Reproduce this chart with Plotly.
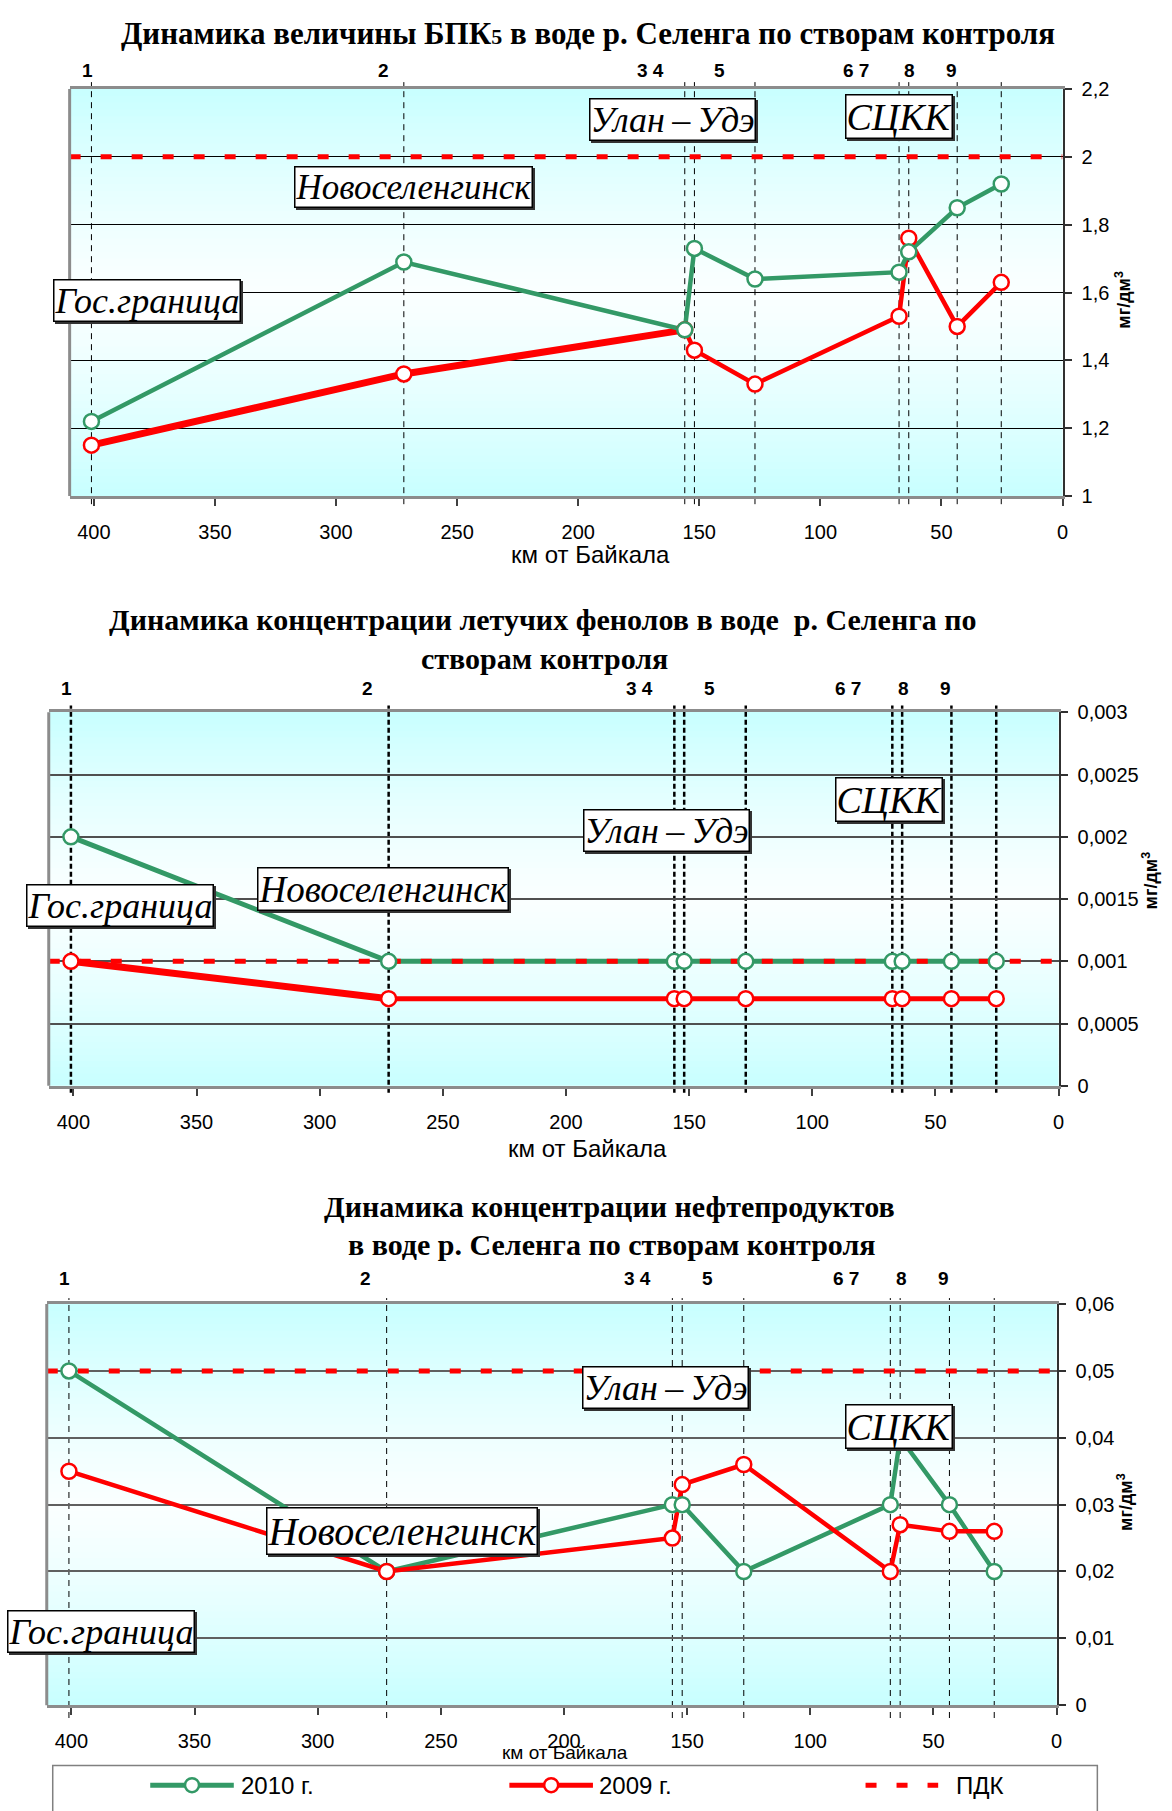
import plotly.graph_objects as go

W, H = 1172, 1811

# ---------------- data ----------------
station_km = [401, 272, 156, 152, 127, 67.5, 63.5, 43.5, 25.3]

bpk_2010 = [1.22, 1.69, 1.49, 1.73, 1.64, 1.66, 1.72, 1.85, 1.92]
bpk_2009 = [1.15, 1.36, 1.49, 1.43, 1.33, 1.53, 1.76, 1.50, 1.63]
bpk_pdk = 2.0

phen_2010 = [0.002, 0.001, 0.001, 0.001, 0.001, 0.001, 0.001, 0.001, 0.001]
phen_2009 = [0.001, 0.0007, 0.0007, 0.0007, 0.0007, 0.0007, 0.0007, 0.0007, 0.0007]
phen_pdk = 0.001

oil_2010 = [0.05, 0.02, 0.03, 0.03, 0.02, 0.03, 0.04, 0.03, 0.02]
oil_2009 = [0.035, 0.02, 0.025, 0.033, 0.036, 0.02, 0.027, 0.026, 0.026]
oil_pdk = 0.05

station_labels = ["1", "2", "3 4", "5", "6 7", "8", "9"]
station_label_km = [402.8, 280.5, 170, 141.6, 85.4, 63.1, 45.8]

x_tick_vals = [400, 350, 300, 250, 200, 150, 100, 50, 0]
x_tick_text = ["400", "350", "300", "250", "200", "150", "100", "50", "0"]

bpk_tick_vals = [1, 1.2, 1.4, 1.6, 1.8, 2, 2.2]
bpk_tick_text = ["1", "1,2", "1,4", "1,6", "1,8", "2", "2,2"]
phen_tick_vals = [0, 0.0005, 0.001, 0.0015, 0.002, 0.0025, 0.003]
phen_tick_text = ["0", "0,0005", "0,001", "0,0015", "0,002", "0,0025", "0,003"]
oil_tick_vals = [0, 0.01, 0.02, 0.03, 0.04, 0.05, 0.06]
oil_tick_text = ["0", "0,01", "0,02", "0,03", "0,04", "0,05", "0,06"]

series_names = ["2010 г.", "2009 г.", "ПДК"]
x_title = "км от Байкала"
y_title = "мг/дм<sup>3</sup>"
ulan = "Улан\u2009–\u2009Удэ"

X_MAX, X_MIN = 410, 0

GREEN = "#339966"
RED = "#FF0000"
SANS = "Liberation Sans"
SERIF = "Liberation Serif"


def px(x):
    return x / W


def py(y):
    return 1 - y / H


fig = go.Figure()
shapes = []
annotations = []

charts = [
    dict(n=1, y10=bpk_2010, y09=bpk_2009, pdk=bpk_pdk, yr=[1, 2.2],
         tv=bpk_tick_vals, tt=bpk_tick_text,
         box=(70, 1068, 79, 491), grid="#000000", gridw=1,
         vdash=dict(color="#000000", width=1, dash="6px,5px"), vext=(0.02, 0.017),
         green_top=True, thick_red=3, width=4.5,
         label_y=60, xtitle=(594, 550, 24), ytitle=(1129, 292),
         boxes=[(ulan, 676, 110, 36), ("СЦКК", 904, 107, 38),
                ("Новоселенгинск", 416, 178, 35), ("Гос.граница", 148, 293, 36)]),
    dict(n=2, y10=phen_2010, y09=phen_2009, pdk=phen_pdk, yr=[0, 0.003],
         tv=phen_tick_vals, tt=phen_tick_text,
         box=(49, 1064, 710, 1088), grid="#505050", gridw=1.5,
         vdash=dict(color="#000000", width=2.5, dash="5px,3px"), vext=(0.0185, 0.0185),
         green_top=True, thick_red=2, width=5,
         label_y=686, xtitle=(591, 1151, 24), ytitle=(1156, 880),
         boxes=[("СЦКК", 894, 798, 38), (ulan, 670, 830, 36),
                ("Новоселенгинск", 385, 889, 37), ("Гос.граница", 121, 906, 36)]),
    dict(n=3, y10=oil_2010, y09=oil_2009, pdk=oil_pdk, yr=[0, 0.06],
         tv=oil_tick_vals, tt=oil_tick_text,
         box=(47, 1062, 1309, 1715), grid="#606060", gridw=1.5,
         vdash=dict(color="#000000", width=1, dash="6px,5px"), vext=(0.032, 0.015),
         green_top=False, thick_red=0, width=4.5,
         label_y=1283, xtitle=(568, 1763, 19), ytitle=(1131, 1509),
         boxes=[(ulan, 669, 1393, 36), ("СЦКК", 904, 1433, 38),
                ("Новоселенгинск", 404, 1539, 40), ("Гос.граница", 102, 1640, 36)]),
]

layout_axes = {}

for c in charts:
    n = c["n"]
    xa = "x" if n == 1 else f"x{n}"
    ya = "y" if n == 1 else f"y{n}"
    xkey = "xaxis" if n == 1 else f"xaxis{n}"
    ykey = "yaxis" if n == 1 else f"yaxis{n}"
    x0, x1, t, b = c["box"]

    layout_axes[xkey] = dict(
        domain=[px(x0), px(x1)], range=[X_MAX, X_MIN], anchor=ya,
        tickvals=x_tick_vals, ticktext=x_tick_text,
        ticks="outside", ticklen=7, tickwidth=1.5, tickcolor="#404040",
        showline=True, linecolor="#8c8c8c", linewidth=3, mirror=True,
        showgrid=False, zeroline=False,
        tickfont=dict(family=SANS, size=20, color="#000"),
        ticklabelstandoff=9,
    )
    layout_axes[ykey] = dict(
        domain=[py(b), py(t)], range=c["yr"], anchor=xa, side="right",
        tickvals=c["tv"], ticktext=c["tt"],
        ticks="outside", ticklen=7, tickwidth=1.5, tickcolor="#303030",
        showline=True, linecolor="#303030", linewidth=2,
        showgrid=True, gridcolor=c["grid"], gridwidth=c["gridw"],
        zeroline=False,
        tickfont=dict(family=SANS, size=20, color="#000"),
        ticklabelstandoff=6,
    )

    # gradient background bands
    nb = 60
    top_c = (0xC8, 0xFF, 0xFF)
    mid_c = (0xFA, 0xFF, 0xFF)
    for i in range(nb):
        f = (i + 0.5) / nb
        w = 1 - abs(2 * f - 1) ** 1.3
        col = tuple(int(round(top_c[k] + (mid_c[k] - top_c[k]) * w)) for k in range(3))
        shapes.append(dict(type="rect", xref=f"{xa} domain", yref=f"{ya} domain",
                           x0=0, x1=1, y0=i / nb, y1=(i + 1) / nb + 0.002,
                           fillcolor="rgb(%d,%d,%d)" % col, line=dict(width=0),
                           layer="below"))
    # left border
    shapes.append(dict(type="line", xref=f"{xa} domain", yref=f"{ya} domain",
                       x0=0, x1=0, y0=0, y1=1, line=dict(color="#8c8c8c", width=3),
                       layer="above"))

    # station dashed verticals
    lo, hi = c["vext"]
    for s in station_km:
        shapes.append(dict(type="line", xref=xa, yref=f"{ya} domain",
                           x0=s, x1=s, y0=-lo, y1=1 + hi,
                           line=c["vdash"], layer="below"))

    # traces: lines, pdk, markers
    order = [("2009", c["y09"], RED), ("2010", c["y10"], GREEN)]
    if not c["green_top"]:
        order = order[::-1]
    k = c["thick_red"]
    if k:
        fig.add_trace(go.Scatter(x=station_km[:k], y=c["y09"][:k], mode="lines",
                                 xaxis=xa, yaxis=ya, line=dict(color=RED, width=7),
                                 showlegend=False, hoverinfo="skip"))
    for name, ys, col in order:
        fig.add_trace(go.Scatter(x=station_km, y=ys, mode="lines", xaxis=xa, yaxis=ya,
                                 line=dict(color=col, width=c["width"]), showlegend=False,
                                 hoverinfo="skip"))
    fig.add_trace(go.Scatter(x=[X_MAX, X_MIN], y=[c["pdk"], c["pdk"]], mode="lines",
                             xaxis=xa, yaxis=ya,
                             line=dict(color=RED, width=5, dash="11px,20px"),
                             showlegend=False, hoverinfo="skip"))
    for name, ys, col in order:
        fig.add_trace(go.Scatter(x=station_km, y=ys, mode="markers", xaxis=xa, yaxis=ya,
                                 marker=dict(symbol="circle", size=15, color="white",
                                             line=dict(color=col, width=2.5)),
                                 cliponaxis=False, showlegend=False))

    # station labels
    for lab, km in zip(station_labels, station_label_km):
        annotations.append(dict(text="<b>%s</b>" % lab, x=km, xref=xa, y=py(c["label_y"]),
                                yref="paper", showarrow=False, xanchor="center",
                                yanchor="middle",
                                font=dict(family=SANS, size=19, color="#000")))
    # axis titles
    xt_x, xt_y, xt_s = c["xtitle"]
    annotations.append(dict(text=x_title, x=px(xt_x), y=py(xt_y), xref="paper",
                            yref="paper", showarrow=False, xanchor="center",
                            yanchor="middle", font=dict(family=SANS, size=xt_s, color="#000")))
    yt_x, yt_y = c["ytitle"]
    annotations.append(dict(text="<b>%s</b>" % y_title, x=px(yt_x), y=py(yt_y),
                            xref="paper", yref="paper", showarrow=False, textangle=-90,
                            xanchor="center", yanchor="middle",
                            font=dict(family=SANS, size=18, color="#000")))
    # place-name boxes (shadow + box)
    for txt, bx, by, fs in c["boxes"]:
        annotations.append(dict(text="<i>%s</i>" % txt, x=px(bx), y=py(by), xref="paper",
                                yref="paper", showarrow=False, xanchor="center",
                                yanchor="middle", xshift=2, yshift=-2,
                                font=dict(family=SERIF, size=fs, color="rgba(0,0,0,0)"),
                                bgcolor="#333333", bordercolor="#333333", borderwidth=1.5,
                                borderpad=0))
        annotations.append(dict(text="<i>%s</i>" % txt, x=px(bx), y=py(by), xref="paper",
                                yref="paper", showarrow=False, xanchor="center",
                                yanchor="middle",
                                font=dict(family=SERIF, size=fs, color="#000"),
                                bgcolor="#ffffff", bordercolor="#000000", borderwidth=1.5,
                                borderpad=0))

# titles
titles = [
    ("<b>Динамика величины БПК<span style='font-size:22px'>5</span> в воде р. Селенга по створам контроля</b>", 591, 23, 31),
    ("<b>Динамика концентрации летучих фенолов в воде  р. Селенга по</b>", 546, 616, 30),
    ("<b>створам контроля</b>", 547, 655, 30),
    ("<b>Динамика концентрации нефтепродуктов</b>", 613, 1210, 30),
    ("<b>в воде р. Селенга по створам контроля</b>", 615, 1249, 30),
]
for txt, tx, ty, fs in titles:
    annotations.append(dict(text=txt, x=px(tx), y=py(ty), xref="paper", yref="paper",
                            showarrow=False, xanchor="center", yanchor="middle",
                            font=dict(family=SERIF, size=fs, color="#000")))

# legend (drawn)
LEG_Y = 1796
shapes.append(dict(type="rect", xref="paper", yref="paper", x0=px(53), x1=px(1103),
                   y0=py(1830), y1=py(1776), line=dict(color="#808080", width=1.5),
                   fillcolor="rgba(0,0,0,0)", layer="above"))
legend_items = [
    (GREEN, 151, 235, 193, series_names[0], 240),
    (RED, 512, 596, 554, series_names[1], 600),
]
for col, lx0, lx1, mx, name, tx in legend_items:
    shapes.append(dict(type="line", xref="paper", yref="paper", x0=px(lx0), x1=px(lx1),
                       y0=py(LEG_Y), y1=py(LEG_Y), line=dict(color=col, width=5),
                       layer="above"))
    shapes.append(dict(type="circle", xref="paper", yref="paper", xsizemode="pixel",
                       ysizemode="pixel", xanchor=px(mx), yanchor=py(LEG_Y),
                       x0=-7, x1=7, y0=-7, y1=7, fillcolor="white",
                       line=dict(color=col, width=2.5), layer="above"))
    annotations.append(dict(text=name, x=px(tx), y=py(LEG_Y), xref="paper", yref="paper",
                            showarrow=False, xanchor="left", yanchor="middle",
                            font=dict(family=SANS, size=24, color="#000")))
shapes.append(dict(type="line", xref="paper", yref="paper", x0=px(870), x1=px(943),
                   y0=py(LEG_Y), y1=py(LEG_Y),
                   line=dict(color=RED, width=5, dash="11px,20px"), layer="above"))
annotations.append(dict(text=series_names[2], x=px(959), y=py(LEG_Y), xref="paper",
                        yref="paper", showarrow=False, xanchor="left", yanchor="middle",
                        font=dict(family=SANS, size=24, color="#000")))

fig.update_layout(
    width=W, height=H, margin=dict(l=0, r=0, t=0, b=0),
    paper_bgcolor="white", plot_bgcolor="rgba(0,0,0,0)",
    showlegend=False, shapes=shapes, annotations=annotations,
    separators=", ",
    **layout_axes,
)

fig.write_html("out.html", config={"displayModeBar": False},
               post_script="document.body.style.margin='0';document.body.style.overflow='hidden';")
